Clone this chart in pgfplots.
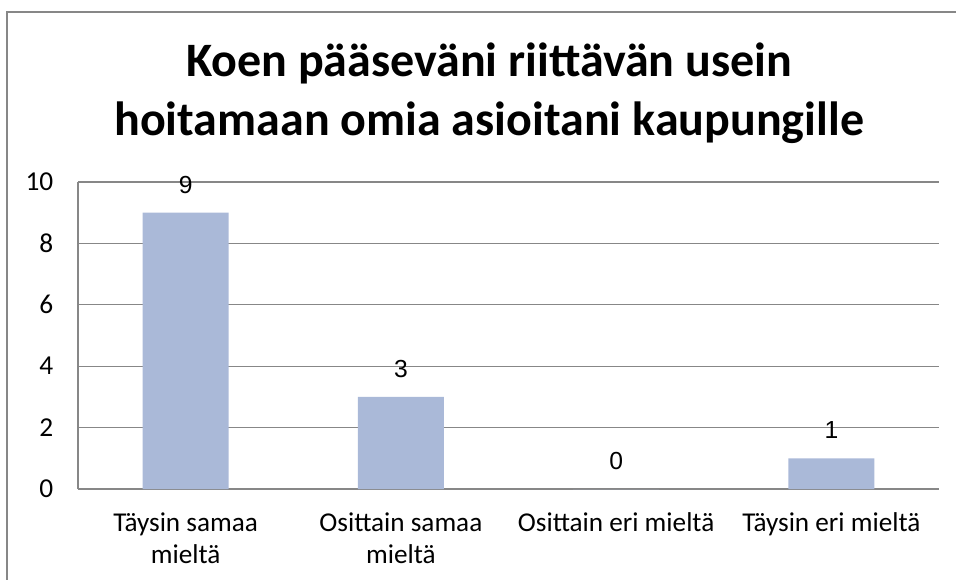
\documentclass[border=0pt]{standalone}
\usepackage{fontspec}
\setmainfont{Carlito}
\newfontfamily\arialfont{Liberation Sans}
\usepackage{pgfplots}
\pgfplotsset{compat=1.18}
\definecolor{barblue}{HTML}{AAB9D8}
\definecolor{gridgray}{HTML}{878787}
\begin{document}
\begin{tikzpicture}
\useasboundingbox (0,0) rectangle (717pt,-435pt);
\begin{scope}
\clip (0,0) rectangle (717pt,-435pt);
\draw[gridgray, line width=1.2pt] (5.25pt,-9pt) rectangle (800pt,-500pt);
\end{scope}
\node[anchor=base, inner sep=0pt, font=\fontsize{36}{42}\selectfont\bfseries] at (366.75pt,-57.75pt) {Koen pääseväni riittävän usein};
\node[anchor=base, inner sep=0pt, font=\fontsize{36}{42}\selectfont\bfseries] at (366.75pt,-102pt) {hoitamaan omia asioitani kaupungille};
\begin{axis}[
  at={(58.5pt,-366.75pt)}, anchor=south west,
  width=645.75pt, height=230.25pt, scale only axis,
  xmin=-0.5, xmax=3.5, ymin=0, ymax=10,
  ytick={0,2,...,10},
  xtick={0,1,2,3},
  xticklabels={{Täysin samaa\\mieltä},{Osittain samaa\\mieltä},{Osittain eri mieltä},{Täysin eri mieltä}},
  ymajorgrids,
  grid style={gridgray, line width=0.9pt},
  axis x line*=bottom, axis y line*=left,
  axis line style={gridgray, line width=0.9pt, -},
  major tick length=0pt,
  /pgf/number format/assume math mode=true,
  yticklabel style={font=\fontsize{20.5}{24}\selectfont, anchor=east, xshift=-15pt},
  xticklabel style={font=\fontsize{20.4}{24}\selectfont, align=center, anchor=north, yshift=-14pt},
]
\addplot[ybar, bar width=64.5pt, bar shift=0pt, fill=barblue, draw=none,
  nodes near coords,
  nodes near coords style={font=\arialfont\fontsize{18.5}{20}\selectfont, anchor=base, yshift=14.5pt}]
  coordinates {(0,9) (1,3) (2,0) (3,1)};
\end{axis}
\end{tikzpicture}
\end{document}
